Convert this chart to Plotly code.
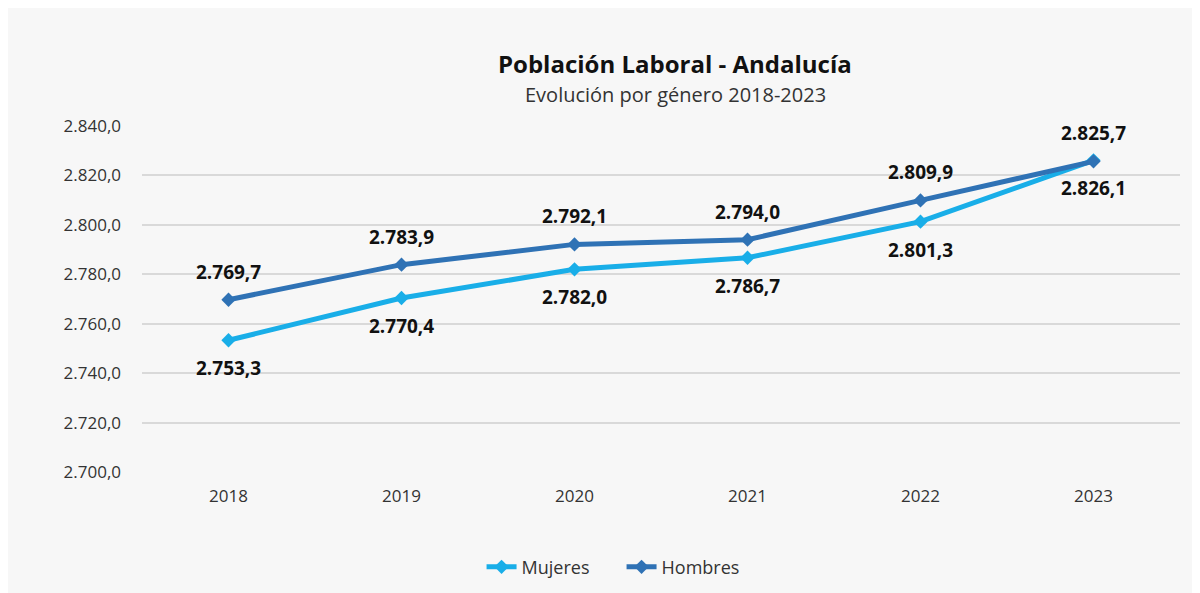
import plotly.graph_objects as go

years = ["2018", "2019", "2020", "2021", "2022", "2023"]
mujeres = [2753.3, 2770.4, 2782.0, 2786.7, 2801.3, 2826.1]
hombres = [2769.7, 2783.9, 2792.1, 2794.0, 2809.9, 2825.7]
y_ticks = [2700, 2720, 2740, 2760, 2780, 2800, 2820, 2840]


def fmt(v):
    s = f"{v:,.1f}"
    return s.replace(",", "X").replace(".", ",").replace("X", ".")


C_M = "#19aee8"
C_H = "#2f72b5"
FONT = "Open Sans"

fig = go.Figure()
fig.add_trace(go.Scatter(x=years, y=mujeres, name="Mujeres", mode="lines+markers",
                         line=dict(color=C_M, width=5),
                         marker=dict(symbol="diamond", size=11, color=C_M)))
fig.add_trace(go.Scatter(x=years, y=hombres, name="Hombres", mode="lines+markers",
                         line=dict(color=C_H, width=5),
                         marker=dict(symbol="diamond", size=11, color=C_H)))

lab_font = dict(family=FONT, size=19, color="#111111", weight="bold")
ann = []
for i, v in enumerate(hombres):
    ann.append(dict(x=i, y=v, xref="x", yref="y", text=fmt(v), showarrow=False, yshift=28, font=lab_font))
for i, v in enumerate(mujeres):
    ann.append(dict(x=i, y=v, xref="x", yref="y", text=fmt(v), showarrow=False, yshift=-28, font=lab_font))
ann.append(dict(xref="paper", yref="paper", x=0.5135, y=1.234, text="<b>Población Laboral - Andalucía</b>",
                showarrow=False, font=dict(family=FONT, size=24, color="#111111")))
ann.append(dict(xref="paper", yref="paper", x=0.5135, y=1.136, text="Evolución por género 2018-2023",
                showarrow=False, font=dict(family=FONT, size=20, color="#333333")))

fig.update_layout(
    width=1200, height=593,
    margin=dict(l=134, r=28, t=118, b=129),
    paper_bgcolor="#f7f7f7", plot_bgcolor="#f7f7f7",
    separators=",.",
    font=dict(family=FONT, size=17, color="#333333"),
    annotations=ann,
    showlegend=True,
    legend=dict(orientation="h", x=0.462, xanchor="center", y=-0.275, yanchor="middle",
                entrywidth=95, entrywidthmode="pixels",
                font=dict(family=FONT, size=18, color="#333333"), bgcolor="rgba(0,0,0,0)"),
    xaxis=dict(type="category", range=[-0.5, 5.5], showgrid=False, showline=False, ticks="",
               ticklabelstandoff=12, tickfont=dict(size=17, color="#333333")),
    yaxis=dict(range=[2700, 2840], tickvals=y_ticks, tickformat=",.1f", showgrid=True,
               gridcolor="#d9d9d9", gridwidth=1.5, zeroline=False, showline=False, ticks="",
               ticklabelstandoff=20, tickfont=dict(size=17, color="#333333")),
)

fig.write_html("out.html")
